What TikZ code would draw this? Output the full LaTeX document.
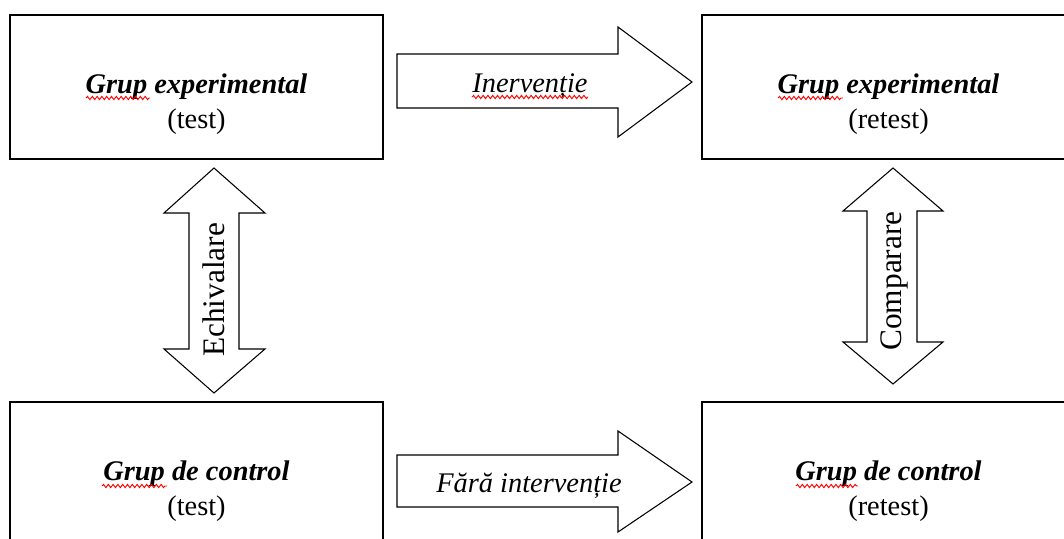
\documentclass[tikz,border=0pt]{standalone}
\usepackage{fontspec}
\setmainfont{Liberation Serif}
\usepackage{tikz}
\usetikzlibrary{positioning}
\usetikzlibrary{decorations.pathmorphing}

\begin{document}
\begin{tikzpicture}[x=0.75pt,y=-0.75pt,
	groupbox/.style={draw,line width=1pt,minimum width=279.75pt,minimum height=108pt},
	grouptext/.style={align=center,font=\fontsize{21.3}{26}\selectfont},
	blockarrow/.style={draw,line width=0.8pt,fill=white,line join=miter},
	arrowtext/.style={font=\fontsize{21.3}{26}\selectfont\itshape},
	sidetext/.style={font=\fontsize{23.5}{28}\selectfont,rotate=90},
	spellmark/.style={red,line width=0.7pt,decorate,
		decoration={snake,segment length=3.6pt,amplitude=1.2pt}}]
	
	\clip (0,0) rectangle (1064,539);
	
	% boxes
	\node[groupbox] (exptest) at (196.5,87) {};
	\node[groupbox] (expretest) at (888.5,87) {};
	\node[groupbox] (ctrltest) at (196.5,474) {};
	\node[groupbox] (ctrlretest) at (888.5,474) {};
	
	\node[grouptext] (exptestlbl) at ([yshift=-12.75pt]exptest.center)
		{\textbf{\textit{Grup experimental}}\\(test)};
	\node[grouptext] (expretestlbl) at ([yshift=-12.75pt]expretest.center)
		{\textbf{\textit{Grup experimental}}\\(retest)};
	\node[grouptext] (ctrltestlbl) at ([yshift=-12.75pt]ctrltest.center)
		{\textbf{\textit{Grup de control}}\\(test)};
	\node[grouptext] (ctrlretestlbl) at ([yshift=-12.75pt]ctrlretest.center)
		{\textbf{\textit{Grup de control}}\\(retest)};
	
	% block arrows
	\draw[blockarrow] (397,54) -- (618,54) -- (618,27) -- (692,82) -- (618,137)
		-- (618,108) -- (397,108) -- cycle;
	\draw[blockarrow] (397,455) -- (618,455) -- (618,431) -- (692,482) -- (618,532)
		-- (618,507) -- (397,507) -- cycle;
	\draw[blockarrow] (214,168) -- (265,213) -- (239,213) -- (239,349) -- (265,349)
		-- (214,393) -- (164,349) -- (189,349) -- (189,213) -- (164,213) -- cycle;
	\draw[blockarrow] (893,168) -- (943,211) -- (917,211) -- (917,342) -- (943,342)
		-- (893,384) -- (843,342) -- (867,342) -- (867,211) -- (843,211) -- cycle;
	
	\node[arrowtext,anchor=base] (interv) at (530,92) {Inervenție};
	\node[arrowtext,anchor=base] (nointerv) at (529,492) {Fără intervenție};
	\node[sidetext] (echiv) at (214,290) {Echivalare};
	\node[sidetext] (comp) at (894,281) {Comparare};
	
	% spell checker marks
	\draw[spellmark] (86,98) -- (150,98);
	\draw[spellmark] (778,98) -- (843,98);
	\draw[spellmark] (102,486) -- (167,486);
	\draw[spellmark] (796,486) -- (858,486);
	\draw[spellmark] (472,97) -- (588,97);
\end{tikzpicture}
\end{document}
